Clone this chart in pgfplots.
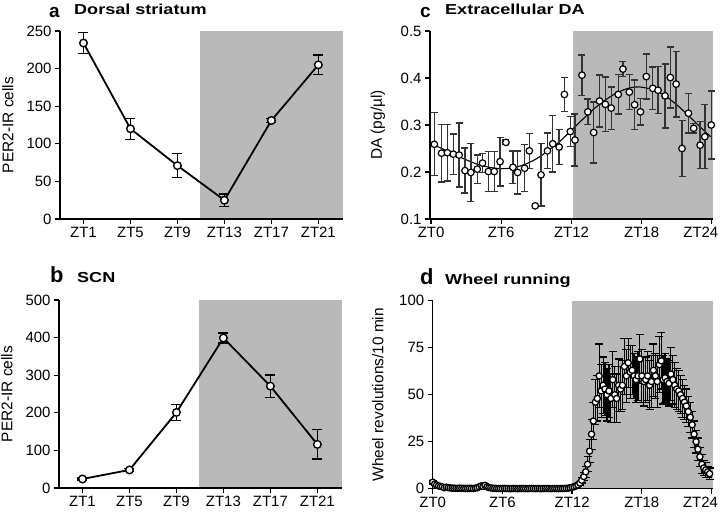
\documentclass[border=0pt]{standalone}
\usepackage{pgfplots}
\usepackage{pgfplotstable}
\pgfplotsset{compat=1.18}
\usepackage{fontspec}
\setmainfont{Liberation Sans}
\newfontfamily\titlefont{Liberation Sans}[FakeStretch=1.25]
\definecolor{nightgray}{RGB}{185,185,185}

\pgfplotstableread{
x y e
1 234 14
5 120 14
9 71 16
13 25 8
17 131 3
21 205 13
}\dataA

\pgfplotstableread{
x y e
1 24 3
5 48 4
9 201 21
13 399 13
17 271 30
21 116 39
}\dataB

\pgfplotstableread{
x y e
0.28 0.259 0.067
0.90 0.240 0.061
1.40 0.241 0.060
1.90 0.238 0.043
2.40 0.236 0.068
2.90 0.203 0.048
3.40 0.199 0.062
3.95 0.206 0.030
4.40 0.219 0.020
4.90 0.201 0.043
5.40 0.201 0.043
5.90 0.222 0.052
6.40 0.263 0.005
7.00 0.210 0.035
7.40 0.199 0.046
8.00 0.208 0.050
8.40 0.245 0.037
8.90 0.128 0.000
9.40 0.194 0.066
9.95 0.245 0.038
10.40 0.260 0.060
10.95 0.253 0.037
11.40 0.365 0.036
11.90 0.286 0.032
12.30 0.268 0.055
12.90 0.406 0.043
13.40 0.328 0.027
13.90 0.284 0.065
14.40 0.351 0.055
14.90 0.344 0.058
15.40 0.336 0.045
16.00 0.365 0.042
16.40 0.419 0.016
16.95 0.370 0.037
17.40 0.343 0.053
17.90 0.328 0.028
18.40 0.403 0.048
18.95 0.378 0.045
19.40 0.374 0.050
20.00 0.362 0.068
20.45 0.401 0.065
20.95 0.387 0.070
21.45 0.250 0.060
22.00 0.325 0.042
22.45 0.293 0.010
23.00 0.257 0.050
23.40 0.275 0.068
23.95 0.300 0.072
}\dataC

\pgfplotstableread{
x y
0.3 0.257
1 0.249
2 0.237
3 0.226
4 0.216
5 0.210
6 0.207
7 0.209
8 0.216
9 0.228
10 0.245
11 0.265
12 0.289
13 0.313
14 0.336
15 0.355
16 0.370
17 0.379
17.8 0.381
19 0.375
20 0.362
21 0.343
22 0.320
23 0.296
23.9 0.275
}\fitC

\pgfplotstableread{
x y e
0.00 3.5 1.0
0.17 2.5 1.0
0.33 2.0 0.8
0.50 1.5 0.8
0.67 1.2 0.6
0.83 1.0 0.5
1.00 0.5 0.4
1.17 0.8 0.4
1.33 0.6 0.4
1.50 0.4 0.3
1.67 0.3 0.3
1.83 0.3 0.3
2.00 0.2 0.2
2.17 0.2 0.2
2.33 0.3 0.2
2.50 0.2 0.2
2.67 0.2 0.2
2.83 0.1 0.1
3.00 0.1 0.1
3.17 0.2 0.2
3.33 0.2 0.2
3.50 0.1 0.1
3.67 0.3 0.2
3.83 0.5 0.3
4.00 1.0 0.5
4.17 1.5 0.6
4.33 1.2 0.6
4.50 1.8 0.7
4.67 1.0 0.5
4.83 0.6 0.4
5.00 0.4 0.3
5.17 0.2 0.2
5.33 0.2 0.1
5.50 0.1 0.1
5.67 0.1 0.1
5.83 0.1 0.1
6.00 0.1 0.1
6.17 0.2 0.1
6.33 0.1 0.1
6.50 0.1 0.1
6.67 0.0 0.1
6.83 0.1 0.1
7.00 0.1 0.1
7.17 0.1 0.1
7.33 0.0 0.1
7.50 0.1 0.1
7.67 0.1 0.1
7.83 0.1 0.1
8.00 0.1 0.1
8.17 0.0 0.1
8.33 0.1 0.1
8.50 0.1 0.1
8.67 0.1 0.1
8.83 0.0 0.1
9.00 0.1 0.1
9.17 0.1 0.1
9.33 0.0 0.1
9.50 0.1 0.1
9.67 0.1 0.1
9.83 0.1 0.1
10.00 0.1 0.1
10.17 0.0 0.1
10.33 0.1 0.1
10.50 0.1 0.1
10.67 0.1 0.1
10.83 0.0 0.1
11.00 0.1 0.1
11.17 0.1 0.1
11.33 0.1 0.1
11.50 0.2 0.1
11.67 0.3 0.2
11.83 0.5 0.3
12.00 0.8 0.4
12.17 1.0 0.5
12.33 1.5 0.6
12.50 2.0 0.8
12.67 3.0 1.0
12.83 4.5 1.5
13.00 6.5 2
13.17 9 3
13.33 13 4
13.50 20 6
13.67 29 8
13.83 36 10
14.00 46 12
14.17 48 12
14.33 60 17
14.50 52 14
14.67 55 15
14.83 53 14
15.00 50 14
15.17 52 14
15.33 48 13
15.50 58 15
15.67 50 15
15.83 48 13
16.00 55 14
16.17 53 12
16.33 55 13
16.50 65 15
16.67 60 14
16.83 67 13
17.00 62 14
17.17 63 13
17.33 60 12
17.50 58 12
17.67 60 13
17.83 69 13
18.00 60 14
18.17 57 13
18.33 58 12
18.50 60 13
18.67 55 13
18.83 57 14
19.00 63 14
19.17 60 12
19.33 57 14
19.50 66 15
19.67 68 15
19.83 58 13
20.00 59 13
20.17 57 12
20.33 56 12
20.50 61 14
20.67 58 13
20.83 55 12
21.00 53 11
21.17 52 11
21.33 50 10
21.50 48 10
21.67 46 9
21.83 44 9
22.00 41 8
22.17 38 8
22.33 34 7
22.50 29 7
22.67 25 6
22.83 21 6
23.00 17 5
23.17 13 5
23.33 11 4
23.50 10 4
23.67 9 3
23.83 8 3
}\dataD

\pgfplotsset{
  panel/.style={
    scale only axis, width=283bp, height=188bp,
    axis lines*=left, axis line style={line width=1.3bp,-},
    tick style={line width=1.3bp, black},
    tick align=outside, major tick length=5bp,
    minor tick num=0,
    clip=false, axis on top,
    tick label style={font=\fontsize{15}{18}\selectfont},
    /pgf/number format/assume math mode=true,
    ylabel style={font=\fontsize{15.5}{18}\selectfont, at={(axis description cs:-0.184,0.5)}, anchor=center},
  },
  errs/.style n args={3}{error bars/.cd, y dir=both, y explicit,
    error bar style={line width=#2, #3},
    error mark options={rotate=90, mark size=#1, line width=#2, #3}},
}

\begin{document}
\begin{tikzpicture}
\useasboundingbox (0,0) rectangle (720bp,517bp);

% Panel a
\begin{axis}[panel, at={(60bp,298bp)}, anchor=south west,
  xmin=-1, xmax=23.1, ymin=0, ymax=250,
  xtick={1,5,9,13,17,21}, xticklabels={ZT1,ZT5,ZT9,ZT13,ZT17,ZT21},
  ytick={0,50,100,150,200,250},
  ylabel={PER2-IR cells}]
\fill[nightgray] (axis cs:10.96,0) rectangle (axis cs:23.1,250);
\addplot[black, line width=1.8bp, mark=*, mark size=3.8bp,
  mark options={fill=white, line width=1.4bp, solid}, errs={5bp}{1.4bp}{black}]
  table[x=x, y=y, y error=e]{\dataA};
\end{axis}

% Panel b
\begin{axis}[panel, at={(59bp,29bp)}, anchor=south west,
  xmin=-1, xmax=23.1, ymin=0, ymax=500,
  xtick={1,5,9,13,17,21}, xticklabels={ZT1,ZT5,ZT9,ZT13,ZT17,ZT21},
  ytick={0,100,200,300,400,500},
  ylabel={PER2-IR cells}]
\fill[nightgray] (axis cs:10.96,0) rectangle (axis cs:23.1,500);
\addplot[black, line width=1.8bp, mark=*, mark size=3.8bp,
  mark options={fill=white, line width=1.4bp, solid}, errs={5bp}{1.4bp}{black}]
  table[x=x, y=y, y error=e]{\dataB};
\end{axis}

% Panel c
\begin{axis}[panel, at={(430bp,298bp)}, anchor=south west,
  xmin=-0.09, xmax=24.1, ymin=0.1, ymax=0.5,
  xtick={0,6,12,18,24}, xticklabels={ZT0,ZT6,ZT12,ZT18,\hspace*{-22bp}ZT24},
  ytick={0.1,0.2,0.3,0.4,0.5},
  yticklabel style={/pgf/number format/.cd, fixed, precision=1, fixed zerofill},
  ylabel={DA (pg/µl)}]
\fill[nightgray] (axis cs:12.1,0.1) rectangle (axis cs:24.1,0.5);
\addplot[black, line width=1.1bp, smooth, no marks] table[x=x, y=y]{\fitC};
\addplot[only marks, mark=*, mark size=3.3bp,
  mark options={fill=white, draw=black, line width=1.2bp}, errs={3.5bp}{1.4bp}{black!80}]
  table[x=x, y=y, y error=e]{\dataC};
\end{axis}

% Panel d
\begin{axis}[panel, width=280bp, at={(432.7bp,28.3bp)}, anchor=south west,
  xmin=0, xmax=24.1, ymin=0, ymax=100,
  xtick={0,6,12,18,24}, xticklabels={ZT0,ZT6,ZT12,ZT18,\hspace*{-22bp}ZT24},
  ytick={0,25,50,75,100},
  ylabel style={at={(axis description cs:-0.196,0.5)}},
  ylabel={Wheel revolutions/10 min}]
\fill[nightgray] (axis cs:12,0) rectangle (axis cs:24.1,100);
\addplot[only marks, mark=*, mark size=3.1bp,
  mark options={fill=white, draw=black, line width=1.3bp}, errs={4bp}{1.2bp}{black}]
  table[x=x, y=y, y error=e]{\dataD};
\end{axis}

% Titles
\node[anchor=base west, inner sep=0] at (49bp,499.5bp) {\bfseries\fontsize{19}{21}\selectfont a};
\node[anchor=base west, inner sep=0] at (74bp,502bp) {\titlefont\bfseries\fontsize{14.5}{17}\selectfont Dorsal striatum};
\node[anchor=base west, inner sep=0] at (50bp,234bp) {\bfseries\fontsize{22}{24}\selectfont b};
\node[anchor=base west, inner sep=0] at (77bp,234bp) {\titlefont\bfseries\fontsize{14.5}{17}\selectfont SCN};
\node[anchor=base west, inner sep=0] at (420bp,499.5bp) {\bfseries\fontsize{19}{21}\selectfont c};
\node[anchor=base west, inner sep=0] at (445bp,502bp) {\titlefont\bfseries\fontsize{14.5}{17}\selectfont Extracellular DA};
\node[anchor=base west, inner sep=0] at (420bp,232.3bp) {\bfseries\fontsize{22}{24}\selectfont d};
\node[anchor=base west, inner sep=0] at (445bp,232.3bp) {\titlefont\bfseries\fontsize{14.5}{17}\selectfont Wheel running};
\end{tikzpicture}
\end{document}
